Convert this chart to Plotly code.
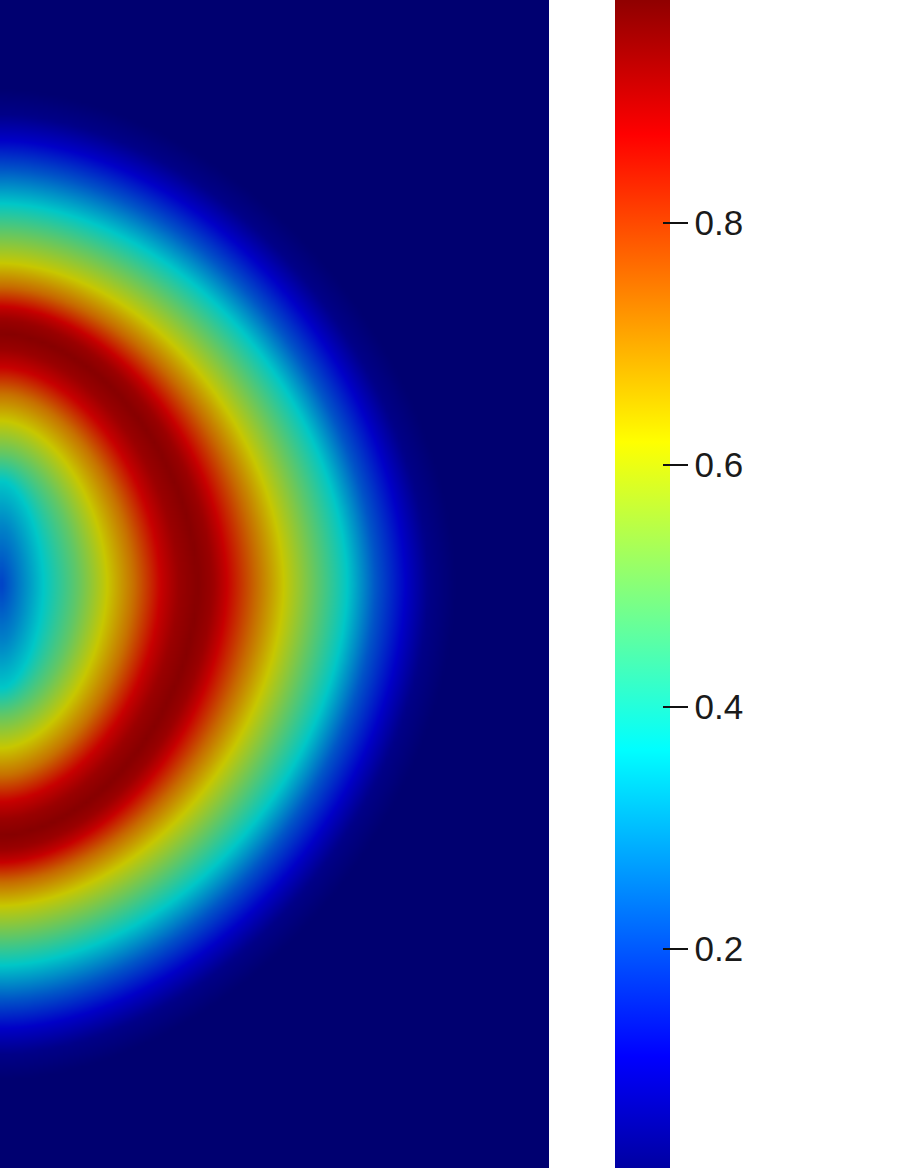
import numpy as np
import plotly.graph_objects as go

# field value on each ring (inner -> outer)
ring_value = [0.19, 0.28, 0.365, 0.49, 0.62, 0.73, 0.873, 0.93, 0.955, 0.93, 0.88,
              0.74, 0.62, 0.49, 0.365, 0.22, 0.111, 0.03, 0.0]
# ring half width along the symmetry line (px from left edge)
ring_width = [0, 22, 43, 77, 107, 133, 160, 178, 197, 212, 225,
              255, 283, 315, 347, 375, 405, 428, 455]
# ring half height along the left edge (px from centre)
ring_height = [0, 60, 104, 131, 164, 191, 217, 235, 251, 265, 277,
               297, 321, 352, 381, 415, 444, 470, 495]

tick_vals = [0.2, 0.4, 0.6, 0.8]
tick_text = ["0.2", "0.4", "0.6", "0.8"]

# ParaView "Jet"
jet_pos = [0.0, 0.111111, 0.365079, 0.492063, 0.619048, 0.873016, 1.0]
jet_rgb = [(0, 0, 0.5625), (0, 0, 1), (0, 1, 1), (0.5, 1, 0.5),
           (1, 1, 0), (1, 0, 0), (0.5, 0, 0)]


def scale(shade):
    return [[p, "rgb(%d,%d,%d)" % tuple(round(c * 255 * shade) for c in rgb)]
            for p, rgb in zip(jet_pos, jet_rgb)]


W, H = 897, 1168
img_w = 549
yc = 584
step = 4
p = 1.8

xs = np.arange(step / 2, img_w + step, step)
ys = np.arange(step / 2, H + step, step)
X, Y = np.meshgrid(xs, ys)
D = np.abs(Y - yc)
rho = np.hypot(X, D)
c = X / np.maximum(rho, 1e-9)
s = D / np.maximum(rho, 1e-9)

a = np.array(ring_width, float)[:, None, None]
b = np.array(ring_height, float)[:, None, None]
with np.errstate(divide="ignore"):
    R = (np.abs(c / a) ** p + np.abs(s / b) ** p) ** (-1 / p)
R[0] = 0.0
v = np.array(ring_value)

k = np.clip((R <= rho).sum(axis=0), 1, len(v) - 1)
lo = np.take_along_axis(R, (k - 1)[None], 0)[0]
hi = np.take_along_axis(R, k[None], 0)[0]
frac = np.clip((rho - lo) / np.maximum(hi - lo, 1e-9), 0, 1)
Z = v[k - 1] + frac * (v[k] - v[k - 1])
Z = np.round(Z, 3)

fig = go.Figure()
fig.add_trace(go.Heatmap(
    x=xs, y=ys, z=Z, zmin=0, zmax=1, zsmooth="best",
    colorscale=scale(0.78), showscale=False, hoverinfo="skip"))

cb_len = 1210 / H
cb_y = 1 - 586 / H
fig.add_trace(go.Scatter(
    x=[None], y=[None], mode="markers", showlegend=False, hoverinfo="skip",
    marker=dict(color=[0], cmin=0, cmax=1, colorscale=scale(1.0), showscale=True,
                colorbar=dict(
                    x=615 / W, xanchor="left", xpad=0, y=cb_y, yanchor="middle",
                    len=cb_len, ypad=0, thickness=55, outlinewidth=0,
                    tickvals=tick_vals, ticktext=tick_text,
                    ticks="outside", ticklen=18, tickwidth=1.5, tickcolor="#111",
                    tickfont=dict(family="Liberation Sans", size=35, color="#1a1a1a")))))
# inner part of the tick marks, drawn over the bar
fig.add_trace(go.Scatter(
    x=[None], y=[None], mode="markers", showlegend=False, hoverinfo="skip",
    marker=dict(color=[0], cmin=0, cmax=1,
                colorscale=[[0, "rgba(0,0,0,0)"], [1, "rgba(0,0,0,0)"]], showscale=True,
                colorbar=dict(
                    x=663 / W, xanchor="left", xpad=0, y=cb_y, yanchor="middle",
                    len=cb_len, ypad=0, thickness=7, outlinewidth=0,
                    tickvals=tick_vals, showticklabels=False,
                    ticks="inside", ticklen=7, tickwidth=1.5, tickcolor="#111"))))

fig.update_layout(
    width=W, height=H, margin=dict(l=0, r=0, t=0, b=0, autoexpand=False),
    paper_bgcolor="white", plot_bgcolor="white",
    xaxis=dict(visible=False, range=[0, img_w], domain=[0, img_w / W]),
    yaxis=dict(visible=False, range=[H, 0]),
)

fig.write_html("out.html", config={"displayModeBar": False},
               post_script="document.body.style.margin='0';")
